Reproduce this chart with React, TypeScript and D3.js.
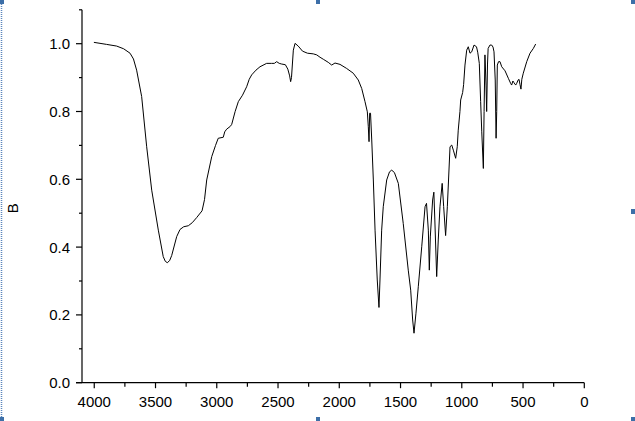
import React from "react";
import * as d3 from "d3";

const wavenumbers = [
  4003, 3900, 3817, 3760, 3708, 3680, 3654, 3613, 3572, 3531, 3477, 3437, 3420, 3404, 3385, 3368, 3327, 3300, 3270, 3232,
  3200, 3164, 3120, 3100, 3082, 3041, 3010, 2988, 2947, 2935, 2919, 2890, 2878, 2850, 2824, 2790, 2756, 2735, 2715, 2680,
  2647, 2593, 2552, 2530, 2511, 2490, 2470, 2440, 2420, 2405, 2397, 2390, 2375, 2361, 2335, 2300, 2260, 2212, 2184, 2157,
  2130, 2090, 2062, 2035, 1994, 1940, 1886, 1845, 1817, 1790, 1771, 1763, 1757, 1752, 1745, 1735, 1722, 1708, 1690, 1676,
  1668, 1654, 1641, 1613, 1590, 1572, 1550, 1518, 1478, 1437, 1417, 1401, 1390, 1374, 1355, 1327, 1300, 1288, 1273, 1265,
  1257, 1238, 1228, 1220, 1205, 1192, 1178, 1160, 1148, 1132, 1118, 1096, 1082, 1069, 1050, 1037, 1029, 1015, 1009, 993,
  985, 974, 960, 947, 933, 919, 900, 880, 870, 857, 846, 837, 824, 818, 811, 802, 797, 790, 785, 770,
  756, 745, 737, 727, 720, 715, 710, 700, 688, 674, 647, 620, 600, 593, 583, 574, 560, 552, 540, 533,
  525, 517, 510, 498, 470, 443, 416, 397,
];

const transmittance = [
  1.004, 0.998, 0.993, 0.985, 0.972, 0.955, 0.922, 0.844, 0.696, 0.568, 0.45, 0.372, 0.358, 0.354, 0.36, 0.375, 0.431, 0.452, 0.46, 0.463,
  0.472, 0.487, 0.507, 0.54, 0.598, 0.667, 0.7, 0.721, 0.724, 0.74, 0.748, 0.756, 0.762, 0.8, 0.829, 0.848, 0.873, 0.895, 0.908, 0.922,
  0.932, 0.942, 0.942, 0.942, 0.947, 0.942, 0.94, 0.938, 0.925, 0.905, 0.888, 0.9, 0.981, 1.001, 0.993, 0.978, 0.972, 0.97, 0.967, 0.96,
  0.954, 0.945, 0.937, 0.943, 0.939, 0.927, 0.913, 0.893, 0.868, 0.829, 0.799, 0.755, 0.711, 0.795, 0.795, 0.716, 0.598, 0.45, 0.303, 0.222,
  0.3, 0.45, 0.519, 0.598, 0.622, 0.627, 0.62, 0.588, 0.47, 0.332, 0.273, 0.185, 0.146, 0.205, 0.283, 0.401, 0.519, 0.529, 0.45, 0.332,
  0.43, 0.539, 0.562, 0.48, 0.313, 0.421, 0.519, 0.588, 0.52, 0.434, 0.519, 0.696, 0.701, 0.686, 0.662, 0.696, 0.745, 0.8, 0.834, 0.856,
  0.88, 0.937, 0.981, 0.991, 0.972, 0.976, 0.996, 0.991, 0.975, 0.942, 0.829, 0.74, 0.632, 0.8, 0.967, 0.878, 0.8, 0.94, 0.986, 0.996,
  0.996, 0.99, 0.976, 0.893, 0.721, 0.8, 0.937, 0.947, 0.947, 0.932, 0.92, 0.898, 0.882, 0.878, 0.89, 0.885, 0.878, 0.883, 0.893, 0.895,
  0.88, 0.866, 0.895, 0.913, 0.947, 0.972, 0.986, 0.999,
];

const xTickLabels = [4000, 3500, 3000, 2500, 2000, 1500, 1000, 500, 0];
const xMinorTicks = [3750, 3250, 2750, 2250, 1750, 1250, 750, 250];
const yTickLabels = [0.0, 0.2, 0.4, 0.6, 0.8, 1.0];
const yMinorTicks = [0.1, 0.3, 0.5, 0.7, 0.9, 1.1];
const yAxisTitle = "B";

const W = 635;
const H = 421;

export default function App() {
  const x = d3.scaleLinear().domain([4100, 0]).range([82, 584.3]);
  const y = d3.scaleLinear().domain([0, 1.1]).range([382.7, 9.8]);
  const pts: [number, number][] = wavenumbers.map((w, i) => [w, transmittance[i]]);
  const line = d3
    .line<[number, number]>()
    .x((d) => x(d[0]))
    .y((d) => y(d[1]))
    .curve(d3.curveLinear);
  const font = "'Liberation Sans', Arial, sans-serif";
  const x0 = x.range()[0];
  const yBottom = y(0);
  const handle = "#3d6fa8";
  return (
    <svg
      width={W}
      height={H}
      style={{ position: "absolute", left: 0, top: 0, background: "#fff" }}
    >
      <rect x={0} y={0} width={W} height={H} fill="#fff" />
      {/* frame decorations */}
      <line x1={1.5} y1={0} x2={1.5} y2={H} stroke="#5b86bd" strokeDasharray="1,1" strokeWidth={1.5} />
      <rect x={0} y={0} width={4} height={4} fill={handle} />
      <rect x={316} y={0} width={4} height={4} fill={handle} />
      <rect x={631} y={0} width={4} height={4} fill={handle} />
      <rect x={631} y={209} width={4} height={5} fill={handle} />
      <rect x={631} y={417} width={4} height={4} fill={handle} />
      <rect x={316} y={417} width={4} height={4} fill={handle} />
      <rect x={0} y={417} width={4} height={4} fill={handle} />

      {/* axes */}
      <line x1={x0} y1={y(1.1)} x2={x0} y2={yBottom} stroke="#000" strokeWidth={1.2} />
      <line x1={x0 - 6} y1={yBottom} x2={x(0)} y2={yBottom} stroke="#000" strokeWidth={1.2} />
      {yTickLabels.map((v) => (
        <g key={"yt" + v}>
          <line x1={x0 - 6} x2={x0} y1={y(v)} y2={y(v)} stroke="#000" strokeWidth={1.2} />
          <text
            x={x0 - 12}
            y={y(v)}
            dy="0.36em"
            textAnchor="end"
            fontFamily={font}
            fontSize={15}
            fill="#000"
          >
            {v.toFixed(1)}
          </text>
        </g>
      ))}
      {yMinorTicks.map((v) => (
        <line key={"ym" + v} x1={x0 - 3} x2={x0} y1={y(v)} y2={y(v)} stroke="#000" strokeWidth={1.2} />
      ))}
      {xTickLabels.map((v) => (
        <g key={"xt" + v}>
          <line x1={x(v)} x2={x(v)} y1={yBottom} y2={yBottom + 5.5} stroke="#000" strokeWidth={1.2} />
          <text
            x={x(v)}
            y={yBottom + 24}
            textAnchor="middle"
            fontFamily={font}
            fontSize={15}
            fill="#000"
          >
            {v}
          </text>
        </g>
      ))}
      {xMinorTicks.map((v) => (
        <line key={"xm" + v} x1={x(v)} x2={x(v)} y1={yBottom} y2={yBottom + 4} stroke="#000" strokeWidth={1.2} />
      ))}
      <text
        transform={`translate(18,${(y(0) + y(1.1)) / 2 + 12}) rotate(-90)`}
        textAnchor="middle"
        fontFamily={font}
        fontSize={15}
        fill="#000"
      >
        {yAxisTitle}
      </text>

      <path d={line(pts) || ""} fill="none" stroke="#000" strokeWidth={1} strokeLinejoin="round" />
    </svg>
  );
}
